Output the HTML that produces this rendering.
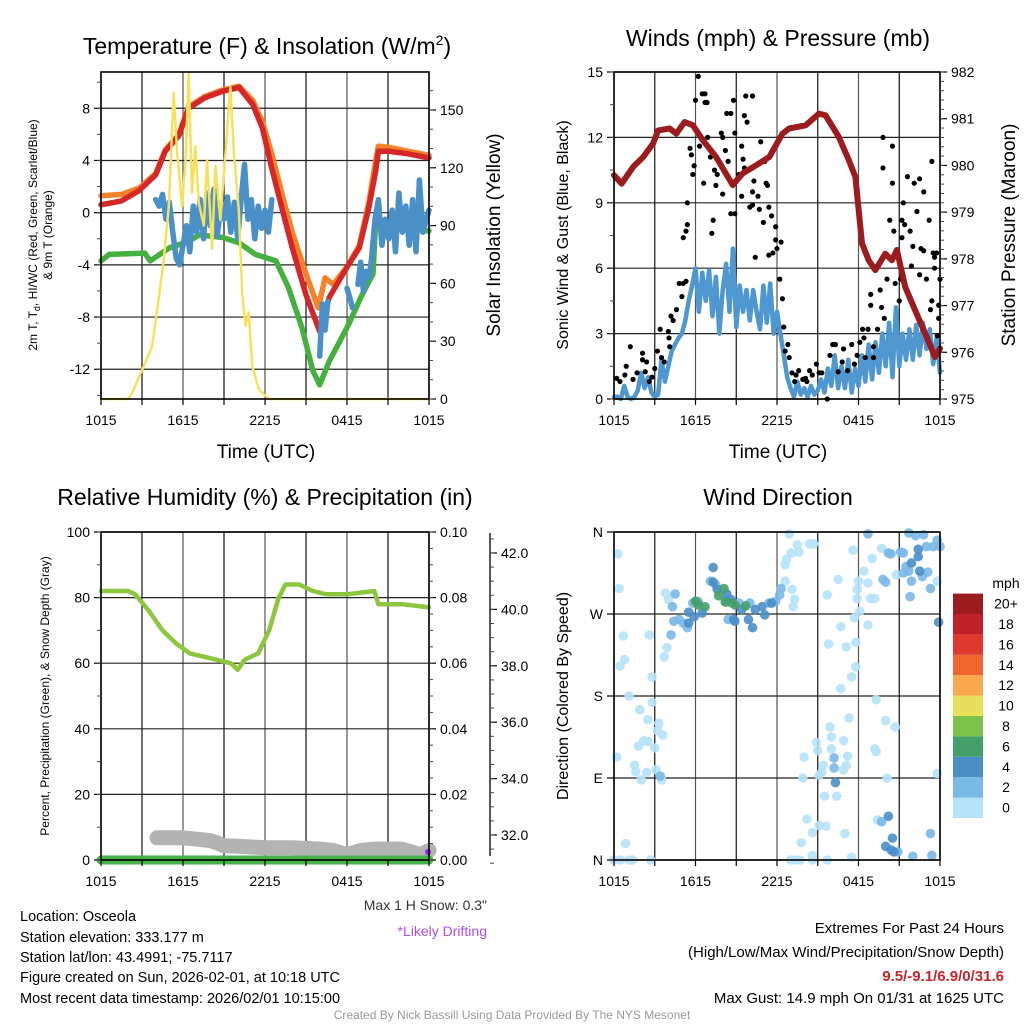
<!DOCTYPE html>
<html><head><meta charset="utf-8"><style>
html,body{margin:0;padding:0;background:#fff;}
svg{display:block;font-family:"Liberation Sans",Arial,sans-serif;}
</style></head><body>
<svg id="chart" width="1024" height="1024" viewBox="0 0 1024 1024" xmlns="http://www.w3.org/2000/svg">
<rect width="1024" height="1024" fill="#fff"/>
<g id="grids"></g>
<g id="marks"></g>
<g id="axes"></g>
<!-- titles -->
<text x="267" y="54" font-size="23" text-anchor="middle">Temperature (F) &amp; Insolation (W/m<tspan font-size="14" dy="-9">2</tspan><tspan dy="9">)</tspan></text>
<text x="778" y="46" font-size="23" text-anchor="middle">Winds (mph) &amp; Pressure (mb)</text>
<text x="265" y="505" font-size="23" text-anchor="middle">Relative Humidity (%) &amp; Precipitation (in)</text>
<text x="778" y="505" font-size="23" text-anchor="middle">Wind Direction</text>
<!-- axis titles -->
<text x="266" y="458" font-size="19" text-anchor="middle">Time (UTC)</text>
<text x="778" y="458" font-size="19" text-anchor="middle">Time (UTC)</text>
<text transform="translate(37,235) rotate(-90)" font-size="12" text-anchor="middle">2m T, T<tspan font-size="9" dy="3">d</tspan><tspan dy="-3">, HI/WC (Red, Green, Scarlet/Blue)</tspan></text>
<text transform="translate(52,235) rotate(-90)" font-size="12" text-anchor="middle">&amp; 9m T (Orange)</text>
<text transform="translate(500,235) rotate(-90)" font-size="19" text-anchor="middle">Solar Insolation (Yellow)</text>
<text transform="translate(568,235) rotate(-90)" font-size="16" text-anchor="middle">Sonic Wind &amp; Gust (Blue, Black)</text>
<text transform="translate(1015,235) rotate(-90)" font-size="19" text-anchor="middle">Station Pressure (Maroon)</text>
<text transform="translate(49,696) rotate(-90)" font-size="12" text-anchor="middle">Percent, Precipitation (Green), &amp; Snow Depth (Gray)</text>
<text transform="translate(568,696) rotate(-90)" font-size="16" text-anchor="middle">Direction (Colored By Speed)</text>
<!-- notes -->
<text x="487" y="910" font-size="14" text-anchor="end" fill="#333">Max 1 H Snow: 0.3"</text>
<text x="487" y="936" font-size="14" text-anchor="end" fill="#a94ef0">*Likely Drifting</text>
<g font-size="14.5">
<text x="20" y="921">Location: Osceola</text>
<text x="20" y="942">Station elevation: 333.177 m</text>
<text x="20" y="962">Station lat/lon: 43.4991; -75.7117</text>
<text x="20" y="982">Figure created on Sun, 2026-02-01, at 10:18 UTC</text>
<text x="20" y="1003">Most recent data timestamp: 2026/02/01 10:15:00</text>
</g>
<g font-size="15" text-anchor="end">
<text x="1004" y="933">Extremes For Past 24 Hours</text>
<text x="1004" y="957">(High/Low/Max Wind/Precipitation/Snow Depth)</text>
<text x="1004" y="981" font-weight="bold" fill="#c8242c">9.5/-9.1/6.9/0/31.6</text>
<text x="1004" y="1003">Max Gust: 14.9 mph On 01/31 at 1625 UTC</text>
</g>
<text x="512" y="1019" font-size="12" text-anchor="middle" fill="#999">Created By Nick Bassill Using Data Provided By The NYS Mesonet</text>
<!-- legend -->
<g id="legend">
<text x="1006" y="588" font-size="14" text-anchor="middle">mph</text>
</g>
</svg>
<script>
// ---------- data ----------
const xTickLabels = ["1015","1615","2215","0415","1015"];
const redHours = [0,1.5,2.8,4.0,4.7,5.7,6.4,7.6,8.9,10.1,11.1,11.8,12.5,13.3,14.0,15.0,16.0,16.7,18.1,18.9,19.6,20.1,20.3,21.1,22.5,24];
const redTemp  = [0.6,0.9,1.7,2.9,4.7,5.9,8.0,8.8,9.3,9.6,8.3,6.5,3.4,0.1,-2.7,-6.3,-9.1,-6.5,-4.0,-2.7,0.4,3.2,4.7,4.7,4.5,4.2];
const orangeHours = [0,1.5,2.8,4.0,4.7,5.7,6.4,7.6,8.9,10.1,11.1,11.8,12.5,13.3,14.0,15.0,15.9,16.4,17.0,18.1,18.9,19.6,20.1,20.3,21.1,22.5,24];
const orangeTemp  = [1.3,1.4,1.9,3.0,4.8,6.0,8.1,8.9,9.4,9.7,8.6,7.0,4.5,1.2,-1.5,-4.7,-7.3,-5.0,-5.5,-4.0,-2.5,0.8,4.0,5.1,5.0,4.7,4.4];
const dewHours = [0,0.6,3.2,3.6,5.0,6.4,7.2,8.9,10.1,11.3,12.8,13.7,14.7,15.5,16.0,16.7,18.1,19.1,19.9,20.1,21.1,24];
const dewTemp  = [-3.7,-3.2,-3.1,-3.7,-2.7,-2.2,-1.7,-1.9,-2.3,-3.2,-3.7,-5.7,-8.8,-12.1,-13.2,-11.4,-8.6,-6.3,-4.7,-0.6,-1.1,-1.4];
const wcHours = [4.0,4.25,4.5,4.75,5.0,5.25,5.5,5.75,6.0,6.25,6.5,6.75,7.0,7.25,7.5,7.75,8.0,8.25,8.5,8.75,9.0,9.25,9.5,9.75,10.0,10.25,10.5,10.75,11.0,11.25,11.5,11.75,12.0,12.25,12.5,null,16.0,16.2,16.4,16.6,null,18.0,18.2,18.4,null,18.8,19.0,19.2,19.4,19.6,19.8,20.05,20.3,20.55,20.8,21.05,21.3,21.55,21.8,22.05,22.3,22.55,22.8,23.05,23.3,23.55,23.8,24];
const wcTemp  = [1.0,0.5,1.4,-0.5,0.8,-1.5,-3.5,-4.0,-2.5,-1.0,-3.0,0.5,-1.5,1.0,-2.0,1.5,-1.0,1.8,-1.8,0.5,-0.5,1.2,-1.5,0.8,-2.0,1.0,3.7,-0.5,1.0,-2.0,0.5,-1.2,0.2,-1.5,1.0,null,-11,-7,-9,-6.8,null,-5.8,-6.5,-7.3,null,-5.5,-3.8,-6.0,-4.5,-5.0,-3.5,-0.5,1.0,-2.5,-0.5,-2.0,0.2,-3.0,1.5,-1.5,0.5,-2.5,1.0,-3.0,2.5,-1.5,-0.5,0.2];
const solarHours = [0,2.0,2.27,3.0,3.73,4.22,4.59,4.96,5.32,5.57,5.93,6.18,6.42,6.66,6.91,7.15,7.52,7.76,8.13,8.37,8.74,9.11,9.47,9.72,10.08,10.33,10.57,10.81,11.06,11.55,12.28,24];
const solarVals  = [0,0,3,15,27,52,72,100,159,128,100,124,169,107,131,102,90,124,78,121,93,128,162,128,98,55,38,45,17,5,0,0];
const tempTicks = [-12,-8,-4,0,4,8];
const solarTicks = [0,30,60,90,120,150];

const pressHours = [0,0.56,1.42,2.15,2.88,3.25,4.1,4.59,5.2,5.81,6.54,7.52,8.74,9.47,10.45,11.43,12.4,12.89,14.11,15.09,15.58,16.55,17.29,17.77,18.26,18.75,19.24,19.97,20.46,20.83,21.44,22.17,22.91,23.63,24];
const pressVals  = [979.79,979.61,979.97,980.18,980.47,980.75,980.79,980.68,980.93,980.86,980.54,980.18,979.58,979.83,980.0,980.18,980.68,980.79,980.86,981.11,981.07,980.61,980.11,979.75,978.33,977.97,977.76,978.11,977.97,978.19,977.4,976.9,976.4,975.9,976.08];
const sonicWind = [0.1,0.1,0.0,0.6,0.1,0.0,0.1,0.4,1.2,0.5,1.0,0.3,0.1,0.2,1.8,0.8,1.5,2.2,2.5,2.8,3.0,3.6,4.5,5.2,6.0,4.0,5.8,4.5,5.9,3.8,5.6,3.0,5.0,6.2,4.0,6.9,3.3,5.2,4.0,5.0,3.6,5.0,4.0,3.2,5.2,3.5,5.3,3.0,4.0,3.0,2.0,1.0,0.5,0.1,0.8,0.2,0.5,0.1,0.6,0.2,0.4,0.9,0.3,1.4,0.6,2.0,0.5,1.5,0.5,1.8,0.3,1.4,0.6,2.0,0.8,2.5,0.9,2.6,1.2,3.0,1.5,3.5,1.0,4.2,1.5,3.0,1.8,3.2,1.8,3.4,2.0,3.5,2.3,3.2,1.6,2.8,1.2];
const gustHours = [0.2,0.44,0.9,1.2,0.8,1.4,1.7,2.1,2.1,2.4,2.3,2.6,2.8,3.0,3.2,3.4,3.5,3.7,4.0,4.05,4.1,4.2,4.35,4.6,4.8,5.0,5.1,5.3,5.1,5.3,5.4,5.4,5.6,5.7,5.8,5.9,6.0,6.2,6.3,6.5,6.7,6.7,6.85,6.6,6.9,7.1,7.3,7.2,7.4,7.5,7.6,7.9,8.0,8.2,8.4,8.3,8.6,8.0,8.6,8.8,8.9,8.9,9.2,9.4,9.5,9.4,9.6,9.7,10.2,9.6,9.8,10.0,10.2,10.3,10.2,10.4,10.6,10.7,10.8,11.0,11.1,11.2,11.3,11.4,11.6,11.4,11.7,11.9,11.9,12.0,12.3,12.2,12.4,12.5,12.8,12.6,12.9,13.1,13.4,13.6,13.3,13.9,14.1,14.4,14.2,14.6,14.9,15.1,15.3,15.7,15.9,16.3,16.1,16.5,16.9,16.8,17.2,17.5,17.7,17.9,18.1,18.3,18.4,18.5,18.7,18.9,18.9,19.1,19.1,19.4,19.6,19.7,19.9,19.8,19.8,20.1,20.3,20.5,20.5,20.6,20.7,21.0,21.1,21.2,21.2,21.4,21.3,21.6,21.8,21.9,22.0,22.1,22.3,22.5,22.5,22.8,22.6,22.8,23.0,23.2,23.3,23.4,23.5,23.6,23.6,23.75,23.9,23.9,24,23.4,23.8];
const gustVals  = [0.95,0.8,1.5,2.4,1.1,0.9,1.2,2.1,1.8,1.7,1.25,0.8,1.0,1.4,2.2,3.2,1.9,1.7,3.1,2.8,2.4,3.8,3.6,4.1,5.3,4.7,5.3,5.4,7.4,7.7,9.0,8.0,11.5,11.2,10.3,10.7,13.7,14.8,11.6,14.0,14.0,13.6,13.6,9.9,12.0,11.1,8.2,7.6,10.5,9.8,10.3,12.2,12.0,11.4,10.9,13.1,13.1,9.4,8.5,13.7,12.2,8.5,10.3,11.6,11.0,9.3,10.6,13.9,13.9,13.0,12.7,8.8,8.9,10.0,9.5,6.5,9.3,8.7,11.8,8.1,10.9,9.9,9.8,8.8,8.4,6.6,6.7,7.9,7.3,6.9,7.2,5.5,4.6,3.3,2.5,2.2,1.9,1.2,1.1,1.3,0.8,0.9,0.95,1.3,0.8,1.1,1.6,1.2,1.2,0,2.0,2.5,2.5,1.25,2.3,1.7,1.3,2.5,1.6,2.0,2.6,3.2,2.8,1.9,3.2,4.3,4.8,2.4,1.9,3.2,5.0,4.2,3.7,12.0,10.6,5.5,8.2,11.6,9.9,7.7,5.3,4.5,5.5,8.2,7.4,8.0,9.0,10.2,7.7,6.1,7.0,9.9,8.6,10.1,5.7,9.5,6.9,6.8,5.5,8.2,4.1,10.9,6.7,6.5,6.0,6.7,3.7,4.3,5.5,4.5,2.9];
const windTicks = [0,3,6,9,12,15];
const pressTicks = [975,976,977,978,979,980,981,982];

const rhHours = [0,2,2.5,3.5,4.5,5.5,6.5,7.5,8.5,9.5,10,10.5,11.5,12.3,13,13.5,14.5,15.5,16.5,18,20,20.3,22,24];
const rhVals  = [82,82,81,76,70,66,63,62,61,60,58,61,63,70,80,84,84,82,81,81,82,78,78,77];
const precipHours = [0,24];
const precipVals  = [0,0];
const snowHours = [4.1,6,7,8,8.5,9,10,12,14,16,17,18,19,20,22,23.4,24];
const snowVals  = [31.9,31.9,31.85,31.8,31.72,31.62,31.6,31.55,31.55,31.5,31.45,31.3,31.45,31.5,31.5,31.3,31.45];
const rhTicks = [0,20,40,60,80,100];
const precipTicks = [0,0.02,0.04,0.06,0.08,0.10];
const snowTicks = [32,34,36,38,40,42];

const dirHours = [0.29,0.37,0.69,0.78,0.44,1.1,1.9,2.5,2.8,2.6,2.8,3.3,3.2,3.6,2.2,2.5,1.8,3.0,0.2,1.5,1.6,2.0,2.4,3.1,3.5,0.86,0,0.49,1.1,1.35,2.7,3.7,3.9,3.8,4.0,
 12.9,13.5,13.05,13.6,12.7,12.6,12.6,13.1,13.3,13.2,14.4,14.7,15.7,16.5,17.6,18.4,18.7,18.0,17.9,17.9,18.1,17.7,18.7,16.7,15.8,17.1,17.8,17.8,17.5,16.7,19.7,19.0,19.2,18.9,20.8,23.8,19.3,20.0,20.7,17.3,15.9,16.0,14.9,15.0,16.9,16.0,14.0,15.4,15.3,15.1,17.1,17.2,16.9,19.2,19.3,13.9,20.1,23.8,15.5,16.4,14.2,15.1,15.6,14.6,17.0,13.8,19.4,13.0,13.3,13.7,14.6,14.6,15.7,17.5,
 4.5,4.3,4.2,4.4,4.8,5.1,5.4,5.8,6.2,7.1,7.5,8.2,8.4,9.2,10.0,11.4,11.9,12.2,12.3,20.2,20.4,21.1,21.3,21.5,21.3,21.7,21.9,22.7,23.0,23.5,23.8,24.0,22.2,21.7,19.8,20.0,23.1,21.8,23.3,22.0,23.4,23.3,19.7,16.2,16.2,3.4,20.9,18.7,22.8,
 7.3,7.3,7.6,8.3,8.6,8.8,8.9,9.4,9.9,10.2,10.4,10.9,11.1,11.6,5.5,5.9,6.5,5.5,22.4,22.4,22.5,21.9,23.9,16.3,20.2,20.5,20.4,20.6,20.0,
 6.0,6.2,6.7,7.7,8.1,8.2,8.7,8.9,9.7];
const dirDeg = [336,298,246,220,213,180,165,154,201,247,173,150,142,137,131,130,125,123,113,104,97,88,96,99,88,18,0,0,0,0,0,223,233,293,286,
 358,346,337,338,330,324,306,297,286,278,347,347,291,308,340,317,304,306,297,287,273,266,258,256,237,234,239,212,201,188,342,331,287,287,313,306,176,153,146,156,146,135,129,120,131,122,113,104,96,93,104,114,99,122,119,90,90,95,70,70,45,38,37,30,29,19,44,0,0,0,5,0,0,3,
 292,278,247,262,264,260,255,282,284,306,302,284,264,282,282,282,284,291,298,337,336,338,337,322,315,317,306,311,344,344,351,344,356,359,308,305,316,289,298,4,5,29,42,112,101,92,9,358,357,
 321,305,297,292,286,264,262,275,264,255,275,278,269,282,260,267,271,272,341,333,317,326,261,85,48,24,11,9,15,
 284,280,278,290,298,283,282,280,279];
const dirSpeed = [1,1,1,1,1,1,1,1,1,1,1,1,1,1,1,1,1,1,1,1,1,1,1,1,1,1,1,1,1,1,1,1,1,1,1,
 1,1,1,1,1,1,1,1,1,1,1,1,1,1,1,1,1,1,1,1,1,1,1,1,1,1,1,1,1,1,1,1,1,1,1,1,1,1,1,1,1,1,1,1,1,1,1,1,1,1,1,1,1,1,1,1,1,1,1,1,1,1,1,1,1,1,1,1,1,1,1,1,1,1,
 3,3,3,3,3,3,3,3,3,3,3,3,3,3,3,3,3,3,3,3,3,3,3,3,3,3,3,3,3,3,3,3,3,3,3,3,3,3,3,3,3,3,3,3,3,3,3,3,3,
 5,5,5,5,5,5,5,5,5,5,5,5,5,5,5,5,5,5,5,5,5,5,5,5,5,5,5,5,5,
 7,7,7,7,7,7,7,7,7];
const dirTicks = [0,90,180,270,360];
const dirTickLabels = ["N","E","S","W","N"];
const legendLabels = ["0","2","4","6","8","10","12","14","16","18","20+"];
const legendColors = ["#b6e2f8","#7ab8e6","#4a8ec8","#44a06a","#7bc24a","#e8e05a","#f8a84a","#f0652b","#e03a2f","#c0202a","#9b1b1e"];

// ---------- scales ----------
const NS = "http://www.w3.org/2000/svg";
const P1 = {x0:101,x1:429,y0:72,y1:399};
const P2 = {x0:614,x1:940,y0:72,y1:399};
const P3 = {x0:101,x1:429,y0:532,y1:860};
const P4 = {x0:614,x1:940,y0:532,y1:860};
function xs(P){ return h => P.x0 + (P.x1-P.x0)*h/24; }
const x1s=xs(P1), x2s=xs(P2), x3s=xs(P3), x4s=xs(P4);
const yTemp = v => P1.y1 - (v+14.28)*(P1.y1-P1.y0)/25.06;
const ySolar = v => P1.y1 - v*(P1.y1-P1.y0)/169.7;
const yWind = v => P2.y1 - v*(P2.y1-P2.y0)/15;
const yPress = v => P2.y1 - (v-975)*(P2.y1-P2.y0)/7;
const yRH = v => P3.y1 - v*(P3.y1-P3.y0)/100;
const yPrecip = v => P3.y1 - v*(P3.y1-P3.y0)/0.1;
const ySnow = v => 835 - (v-32)*28.2;
const yDir = v => P4.y1 - v*(P4.y1-P4.y0)/360;

function mk(tag, attrs, parent){
  const e = document.createElementNS(NS, tag);
  for (const k in attrs) e.setAttribute(k, attrs[k]);
  parent.appendChild(e);
  return e;
}
const G = document.getElementById('grids');
const M = document.getElementById('marks');
const A = document.getElementById('axes');

function pathFrom(hours, vals, xf, yf){
  let d = "", pen = false;
  for (let i=0;i<hours.length;i++){
    if (hours[i]===null || vals[i]===null){ pen=false; continue; }
    d += (pen?"L":"M") + xf(hours[i]).toFixed(1) + "," + yf(vals[i]).toFixed(1);
    pen = true;
  }
  return d;
}
function line(hours, vals, xf, yf, color, w, name){
  const p = mk('path', {d: pathFrom(hours, vals, xf, yf), fill:'none', stroke:color, 'stroke-width':w, 'stroke-linejoin':'round', 'stroke-linecap':'round'}, M);
  
  
  return p;
}

// ---------- grid + frame ----------
function panelGrid(P, yTicksPx, name){
  for (let h=0; h<=24; h+=3){
    const x = P.x0 + (P.x1-P.x0)*h/24;
    const g = mk('line', {x1:x, x2:x, y1:P.y0, y2:P.y1, stroke: (h%6===0)?'#555':'#111', 'stroke-width':1.2}, G);
    
    
    const t = mk('line', {x1:x, x2:x, y1:P.y1, y2:P.y1+6, stroke:'#000', 'stroke-width':1.2}, A);
    
    
  }
  yTicksPx.forEach(y=>{
    const g = mk('line', {x1:P.x0, x2:P.x1, y1:y, y2:y, stroke:'#222', 'stroke-width':1.2}, G);
    
    
  });
  const r = mk('rect', {x:P.x0, y:P.y0, width:P.x1-P.x0, height:P.y1-P.y0, fill:'none', stroke:'#000', 'stroke-width':1.6}, A);
  
  
  for (let i=0;i<xTickLabels.length;i++){
    const x = P.x0 + (P.x1-P.x0)*i*6/24;
    const t = mk('text', {x:x, y:P.y1+26, 'font-size':14, 'text-anchor':'middle'}, A);
    t.textContent = xTickLabels[i];
    
    
  }
}
function yAxis(ticks, labels, yf, x, side, name, minorStep, lo, hi, fs){
  const dir = side==='left'?-1:1;
  ticks.forEach((v,i)=>{
    const y = yf(v);
    const t = mk('line', {x1:x, x2:x+dir*7, y1:y, y2:y, stroke:'#000', 'stroke-width':1.2}, A);
    
    
    const tx = mk('text', {x:x+dir*11, y:y+5, 'font-size':fs||14, 'text-anchor': side==='left'?'end':'start'}, A);
    tx.textContent = labels[i];
    
    
  });
  if (minorStep){
    for (let v=lo; v<=hi+1e-9; v+=minorStep){
      const y = yf(v);
      const t = mk('line', {x1:x, x2:x+dir*4, y1:y, y2:y, stroke:'#444', 'stroke-width':1}, A);
      
      
    }
  }
}

// Panel 1
panelGrid(P1, tempTicks.map(yTemp), 'temperature');
yAxis(tempTicks, tempTicks.map(String), yTemp, P1.x0, 'left', 'temperature-y', 2, -14, 10);
yAxis(solarTicks, solarTicks.map(String), ySolar, P1.x1, 'right', 'solar-y', 10, 0, 160);
// Panel 2
panelGrid(P2, windTicks.map(yWind), 'winds');
yAxis(windTicks, windTicks.map(String), yWind, P2.x0, 'left', 'wind-y', 1.5, 0, 15);
yAxis(pressTicks, pressTicks.map(String), yPress, P2.x1, 'right', 'pressure-y', 0.2, 975, 982);
// Panel 3
panelGrid(P3, rhTicks.map(yRH), 'humidity');
yAxis(rhTicks, rhTicks.map(String), yRH, P3.x0, 'left', 'rh-y', 10, 0, 100);
yAxis(precipTicks, precipTicks.map(v=>v.toFixed(2)), yPrecip, P3.x1, 'right', 'precip-y', 0.005, 0, 0.1);
(function(){
  const l = mk('line', {x1:490, x2:490, y1:533, y2:856, stroke:'#000', 'stroke-width':1.3}, A);
  
  
})();
yAxis(snowTicks, snowTicks.map(v=>v.toFixed(1)), ySnow, 490, 'right', 'snow-y', 0.5, 31, 42.5);
// Panel 4
panelGrid(P4, dirTicks.map(yDir), 'direction');
yAxis(dirTicks, dirTickLabels, yDir, P4.x0, 'left', 'direction-y', null);

// ---------- marks ----------
line(orangeHours, orangeTemp, x1s, yTemp, '#f5822a', 5.5, 'temp-9m-orange-line');
line(redHours, redTemp, x1s, yTemp, '#d62728', 5.5, 'temp-2m-red-line');
line(dewHours, dewTemp, x1s, yTemp, '#45b03f', 5.5, 'dewpoint-green-line');
line(wcHours, wcTemp, x1s, yTemp, '#4a90c8', 5.5, 'windchill-blue-line');
line(solarHours, solarVals, x1s, ySolar, '#f7e15a', 2.5, 'solar-yellow-line');

const sonicHours = sonicWind.map((v,i)=>i*0.25);
line(sonicHours, sonicWind, x2s, yWind, '#4f97d0', 4.5, 'sonic-wind-blue-line');
for (let i=0;i<gustHours.length;i++){
  const c = mk('circle', {cx:x2s(gustHours[i]), cy:yWind(gustVals[i]), r:2.6, fill:'#000'}, M);
  
  
}
line(pressHours, pressVals, x2s, yPress, '#9b1b1e', 6, 'pressure-maroon-line');

line(snowHours, snowVals, x3s, ySnow, '#b3b3b3', 15, 'snow-depth-gray-line');
line(precipHours, precipVals, x3s, yPrecip, '#46b04a', 9, 'precip-green-line');
line(rhHours, rhVals, x3s, yRH, '#8cc63f', 4.5, 'rh-green-line');
(function(){
  const c = mk('circle', {cx:x3s(24)-1, cy:852, r:3, fill:'#a020f0'}, M);
  
  
})();

for (let i=0;i<dirHours.length;i++){
  const s = dirSpeed[i];
  const idx = Math.min(10, Math.floor(s/2));
  const c = mk('circle', {cx:x4s(dirHours[i]), cy:yDir(dirDeg[i]), r:4.8, fill:legendColors[idx], 'fill-opacity':0.9}, M);
  
  
}

// legend
const L = document.getElementById('legend');
for (let i=0;i<legendLabels.length;i++){
  const y = 818 - (i+1)*20.4;
  const r = mk('rect', {x:953, y:y, width:30, height:20.4, fill:legendColors[i]}, L);
  
  
  const t = mk('text', {x:1006, y:y+15, 'font-size':14, 'text-anchor':'middle'}, L);
  t.textContent = legendLabels[i];
  
  
}
</script>
</body></html>
